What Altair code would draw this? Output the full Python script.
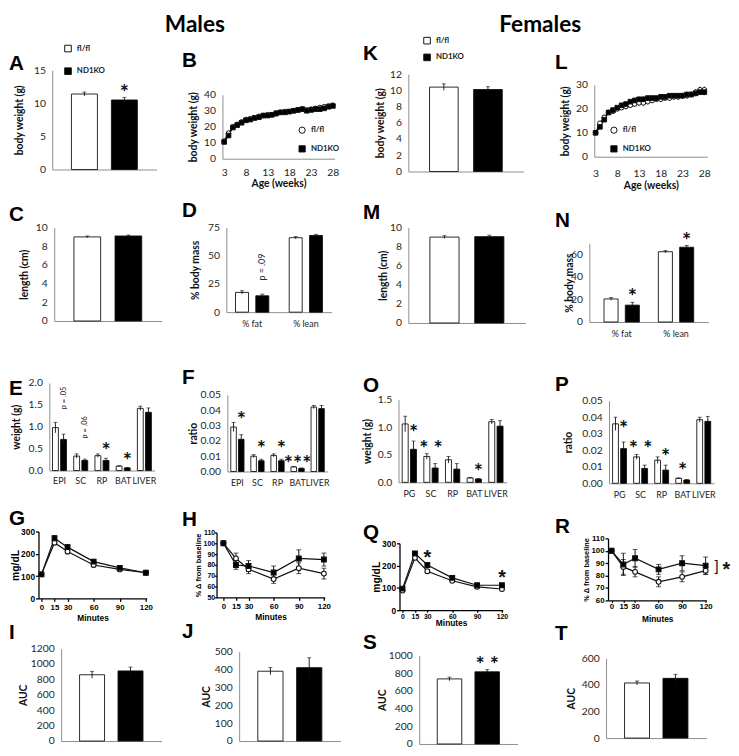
import altair as alt
import pandas as pd

GROUPS = ["fl/fl", "ND1KO"]
EXF = "Lato"
PRF = "Liberation Sans"
GREY = "#8c8c8c"
INK = "#111111"

# ---------------- values ----------------
A_mean = [11.4, 10.5]; A_sem = [0.3, 0.4]
K_mean = [10.4, 10.1]; K_sem = [0.4, 0.35]
C_mean = [9.0, 9.1]; C_sem = [0.1, 0.1]
M_mean = [9.0, 9.05]; M_sem = [0.15, 0.15]
I_mean = [860, 910]; I_sem = [45, 50]
J_mean = [390, 410]; J_sem = [20, 55]
S_mean = [735, 815]; S_sem = [20, 25]
T_mean = [415, 450]; T_sem = [15, 30]

COMP = ["% fat", "% lean"]
D_fl = [17.5, 66.0]; D_fl_sem = [1.5, 1.0]
D_ko = [14.5, 68.0]; D_ko_sem = [1.5, 1.0]
N_fl = [20.5, 62.5]; N_fl_sem = [1.2, 1.0]
N_ko = [15.0, 66.5]; N_ko_sem = [2.5, 1.5]

TISSUE_M = ["EPI", "SC", "RP", "BAT", "LIVER"]
TISSUE_F = ["PG", "SC", "RP", "BAT", "LIVER"]
E_fl = [0.98, 0.33, 0.34, 0.10, 1.42]; E_fl_sem = [0.12, 0.05, 0.04, 0.01, 0.05]
E_ko = [0.71, 0.23, 0.23, 0.06, 1.33]; E_ko_sem = [0.12, 0.03, 0.05, 0.01, 0.10]
F_fl = [0.029, 0.010, 0.0105, 0.003, 0.042]; F_fl_sem = [0.003, 0.001, 0.001, 0.0003, 0.001]
F_ko = [0.021, 0.007, 0.007, 0.002, 0.041]; F_ko_sem = [0.003, 0.001, 0.001, 0.0003, 0.002]
O_fl = [1.06, 0.47, 0.41, 0.08, 1.10]; O_fl_sem = [0.14, 0.05, 0.06, 0.01, 0.04]
O_ko = [0.60, 0.26, 0.24, 0.06, 1.02]; O_ko_sem = [0.15, 0.08, 0.10, 0.01, 0.10]
P_fl = [0.036, 0.016, 0.014, 0.003, 0.0385]; P_fl_sem = [0.004, 0.0015, 0.002, 0.0003, 0.0015]
P_ko = [0.021, 0.009, 0.008, 0.002, 0.0375]; P_ko_sem = [0.004, 0.002, 0.003, 0.0003, 0.003]

WEEKS = [3, 4, 5, 6, 7, 8, 9, 10, 11, 12, 13, 14, 15, 16, 17, 18, 19, 20, 21, 22, 23, 24, 25, 26, 27, 28]
WEEK_TICKS = [3, 8, 13, 18, 23, 28]
B_fl = [11.0, 16.0, 20.0, 21.5, 23.0, 24.5, 25.0, 25.5, 26.5, 27.0, 27.5, 27.5, 28.0, 29.0, 29.5, 29.5,
        30.0, 30.5, 31.0, 30.5, 31.0, 31.5, 32.0, 32.5, 33.0, 33.5]
B_ko = [10.5, 14.5, 19.5, 21.0, 22.5, 24.0, 24.5, 25.5, 26.0, 27.0, 27.0, 27.5, 28.5, 29.0, 29.0, 29.5,
        30.0, 30.5, 31.0, 30.0, 30.5, 31.0, 31.0, 31.5, 32.5, 33.0]
B_sem = [0.8, 0.9, 0.9, 0.8, 0.8, 0.7, 0.7, 0.8, 0.8, 0.7, 0.8, 0.8, 0.8, 0.9, 0.9, 0.8,
         0.9, 0.9, 0.9, 0.9, 0.9, 1.0, 1.0, 1.0, 1.0, 1.1]
L_fl = [10.0, 14.0, 16.5, 18.5, 19.0, 20.0, 20.5, 21.0, 21.5, 22.0, 22.5, 22.5, 23.0, 23.5, 24.0, 24.0,
        24.5, 24.5, 25.0, 25.0, 25.5, 25.5, 26.0, 27.0, 28.0, 28.0]
L_ko = [10.0, 12.5, 15.5, 18.5, 19.5, 20.5, 21.5, 22.0, 23.0, 23.5, 24.0, 24.0, 24.5, 24.5, 24.5, 25.0,
        25.0, 25.5, 25.5, 25.5, 25.5, 26.0, 26.0, 26.5, 27.0, 27.0]
L_sem = [0.6, 0.8, 0.9, 0.9, 1.0, 1.0, 1.0, 1.1, 1.1, 1.2, 1.2, 1.2, 1.1, 1.1, 1.1, 1.1,
         1.1, 1.1, 1.1, 1.2, 1.2, 1.2, 1.2, 1.3, 1.3, 1.3]

MINUTES = [0, 15, 30, 60, 90, 120]
G_fl = [108, 250, 210, 150, 130, 115]; G_fl_sem = [5, 10, 10, 8, 6, 5]
G_ko = [108, 270, 230, 165, 137, 115]; G_ko_sem = [6, 12, 12, 10, 7, 6]
H_fl = [100, 86, 76, 67, 77, 72]; H_fl_sem = [0, 5, 4, 4, 5, 5]
H_ko = [100, 80, 79, 73, 86, 85]; H_ko_sem = [0, 4, 5, 6, 8, 6]
Q_fl = [88, 235, 175, 132, 105, 95]; Q_fl_sem = [5, 8, 7, 5, 4, 4]
Q_ko = [97, 255, 203, 145, 112, 112]; Q_ko_sem = [5, 8, 6, 5, 4, 5]
R_fl = [100, 87, 83, 75, 79, 84]; R_fl_sem = [0, 6, 4, 4, 4, 3]
R_ko = [100, 89, 94, 85, 90, 88]; R_ko_sem = [0, 9, 7, 4, 6, 7]

A_notes = {"cat": ["all"], "grp": ["ND1KO"], "txt": ["*"], "val": [12.3]}
S_notes = {"cat": ["all"], "grp": ["ND1KO"], "txt": ["* *"], "val": [944]}
D_notes = {"cat": ["% fat"], "grp": ["ND1KO"], "txt": ["p = .09"], "val": [28.0]}
N_notes = {"cat": ["% fat", "% lean"], "grp": ["ND1KO", "ND1KO"], "txt": ["*", "*"], "val": [26.5, 76.5]}
E_notes = {"cat": ["EPI", "SC", "RP", "BAT"], "grp": ["ND1KO", "ND1KO", "ND1KO", "ND1KO"],
           "txt": ["p = .05", "p = .06", "*", "*"], "val": [1.40, 0.73, 0.55, 0.32]}
F_notes = {"cat": ["EPI", "SC", "RP", "BAT"], "grp": ["ND1KO", "ND1KO", "ND1KO", "mid"],
           "txt": ["*", "*", "*", "***"], "val": [0.0365, 0.0177, 0.0177, 0.0081]}
O_notes = {"cat": ["PG", "SC", "BAT"], "grp": ["ND1KO", "mid", "ND1KO"],
           "txt": ["*", "* *", "*"], "val": [0.98, 0.69, 0.27]}
P_notes = {"cat": ["PG", "SC", "RP", "BAT"], "grp": ["ND1KO", "mid", "ND1KO", "mid"],
           "txt": ["*", "* *", "*", "*"], "val": [0.0357, 0.0234, 0.0189, 0.0103]}
Q_stars = {"min": [30, 120], "val": [256, 168]}
R_bracket = {"min": [120], "val": [88]}

STAR = dict(font=EXF, fontSize=22, fontWeight="bold", baseline="middle", dy=5, color=INK)


def letter(ch, dx, off):
    return alt.TitleParams(text=ch, anchor="start", frame="group", dx=dx, offset=off,
                           baseline="alphabetic", font=PRF, fontSize=21, fontWeight="bold",
                           color="black")


def ex_y(title, values, fmt, extent, pad=3):
    return alt.Axis(title=title, values=values, tickCount=len(values), format=fmt, grid=False,
                    ticks=False, tickSize=0, domainColor=GREY, labelFont=EXF, labelFontSize=10.5,
                    labelColor="#262626", labelPadding=7, labelOverlap=False, titleFont=EXF,
                    titleFontSize=10.5, titleFontWeight="bold", titleColor=INK, titlePadding=pad,
                    minExtent=extent, maxExtent=extent)


def bar_legend(lx, ly, rowpad):
    return alt.Legend(orient="none", legendX=lx, legendY=ly, title=None, symbolType="square",
                      symbolSize=45, symbolStrokeColor=INK, symbolStrokeWidth=1,
                      labelFont=EXF, labelFontSize=8, labelFontWeight="bold", labelColor="#222",
                      rowPadding=rowpad, labelOffset=5)


def bar_panel(ch, dx, off, cats, fl, fl_e, ko, ko_e, ydom, yvals, yfmt, ytitle, W, H, extent,
              pin, pout, opin, opout, notes=None, legend=None, xlabels=True, xlab_pad=6, pfont=9):
    rows = []
    for i, c in enumerate(cats):
        for g, v, e in ((GROUPS[0], fl[i], fl_e[i]), (GROUPS[1], ko[i], ko_e[i])):
            rows.append({"cat": c, "grp": g, "val": v, "lo": v - e, "hi": v + e})
    df = pd.DataFrame(rows)
    xaxis = alt.Axis(title=None, ticks=False, tickSize=0, domainColor=GREY, labels=xlabels,
                     labelAngle=0, labelFont=EXF, labelFontSize=9, labelColor="#222",
                     labelPadding=xlab_pad, labelOverlap=False)
    X = alt.X("cat:N", sort=cats, scale=alt.Scale(paddingInner=pin, paddingOuter=pout), axis=xaxis)
    XO = alt.XOffset("grp:N", sort=GROUPS, scale=alt.Scale(paddingInner=opin, paddingOuter=opout))
    Y = alt.Y("val:Q", scale=alt.Scale(domain=ydom, nice=False, zero=False),
              axis=ex_y(ytitle, yvals, yfmt, extent))
    FILL = alt.Fill("grp:N", scale=alt.Scale(domain=GROUPS, range=["white", "black"]), legend=legend)
    base = alt.Chart(df)
    bars = base.mark_bar(stroke=INK, strokeWidth=0.9).encode(x=X, xOffset=XO, y=Y, fill=FILL)
    err = base.mark_rule(color=INK, strokeWidth=0.9).encode(x=X, xOffset=XO, y="lo:Q", y2="hi:Q")
    cap = base.mark_tick(color=INK, thickness=0.9, size=4, orient="horizontal").encode(
        x=X, xOffset=XO, y="hi:Q")
    layers = [bars, err, cap]
    if notes:
        nd = pd.DataFrame(notes)
        isp = nd["txt"].str.startswith("p")
        keyed = nd[(nd["grp"] != "mid") & (~isp)]
        mid = nd[(nd["grp"] == "mid") & (~isp)]
        ptx = nd[isp]
        if len(keyed):
            layers.append(alt.Chart(keyed).mark_text(**STAR).encode(
                x=X, xOffset=XO, y="val:Q", text="txt:N"))
        if len(mid):
            layers.append(alt.Chart(mid).mark_text(**STAR).encode(x=X, y="val:Q", text="txt:N"))
        if len(ptx):
            layers.append(alt.Chart(ptx).mark_text(font=EXF, fontSize=pfont, angle=270, align="left",
                                                   baseline="middle", color="#222").encode(
                x=X, xOffset=XO, y="val:Q", text="txt:N"))
    return alt.layer(*layers).properties(width=W, height=H, title=letter(ch, dx, off))


def single_panel(ch, dx, off, mean, sem, ydom, yvals, ytitle, W, H, extent, notes=None, legend=None):
    return bar_panel(ch, dx, off, ["all"], [mean[0]], [sem[0]], [mean[1]], [sem[1]], ydom, yvals,
                     "d", ytitle, W, H, extent, 0, 0, 0.35, 0.48, notes=notes, legend=legend,
                     xlabels=False)


def week_panel(ch, dx, off, fl, ko, sem, xdom, ydom, yvals, W, H, extent, lx, ly, xlab_pad, xt_pad):
    rows = []
    for i, w in enumerate(WEEKS):
        for g, v in ((GROUPS[0], fl[i]), (GROUPS[1], ko[i])):
            rows.append({"week": w, "grp": g, "val": v, "lo": v - sem[i], "hi": v + sem[i]})
    df = pd.DataFrame(rows)
    X = alt.X("week:Q", scale=alt.Scale(domain=xdom, nice=False, zero=False),
              axis=alt.Axis(values=WEEK_TICKS, tickCount=len(WEEK_TICKS), title="Age (weeks)", grid=False,
                            ticks=False, tickSize=0, domainColor=GREY, labelFont=EXF, labelFontSize=10.5,
                            labelColor="#222", labelPadding=xlab_pad, labelFlush=False, labelOverlap=False,
                            titleFont=EXF, titleFontSize=10.5, titleFontWeight="bold", titleColor=INK,
                            titlePadding=xt_pad))
    Y = alt.Y("val:Q", scale=alt.Scale(domain=ydom, nice=False),
              axis=ex_y("body weight (g)", yvals, "d", extent))
    leg = alt.Legend(orient="none", legendX=lx, legendY=ly, title=None, symbolSize=40,
                     symbolStrokeColor=INK, symbolStrokeWidth=1, labelFont=EXF, labelFontSize=8,
                     labelFontWeight="bold", labelColor="#222", rowPadding=7, labelOffset=5)
    base = alt.Chart(df)
    line = base.mark_line(color=INK, strokeWidth=1.3).encode(x=X, y=Y, detail="grp:N")
    err = base.mark_rule(color=INK, strokeWidth=0.8).encode(x=X, y="lo:Q", y2="hi:Q")
    pts = base.mark_point(filled=True, size=22, strokeWidth=1, opacity=1).encode(
        x=X, y=Y,
        shape=alt.Shape("grp:N", scale=alt.Scale(domain=GROUPS, range=["circle", "square"]), legend=leg),
        fill=alt.Fill("grp:N", scale=alt.Scale(domain=GROUPS, range=["white", "black"]), legend=leg),
        stroke=alt.Stroke("grp:N", scale=alt.Scale(domain=GROUPS, range=[INK, INK]), legend=leg))
    return alt.layer(line, err, pts).properties(width=W, height=H, title=letter(ch, dx, off))


def gtt_panel(ch, dx, off, fl, fl_e, ko, ko_e, xdom, ydom, yvals, ytitle, ytsize, W, H, extent, tpad,
              stars=None, bracket=None, xtick=3, xlab_pad=2, xt_pad=2, xlab_font=8, ylab_font=8.5,
              ytick=3, ylab_pad=1):
    rows = []
    for i, m in enumerate(MINUTES):
        for g, v, e in ((GROUPS[0], fl[i], fl_e[i]), (GROUPS[1], ko[i], ko_e[i])):
            rows.append({"min": m, "grp": g, "val": v, "lo": v - e, "hi": v + e})
    df = pd.DataFrame(rows)
    X = alt.X("min:Q", scale=alt.Scale(domain=xdom, nice=False, zero=False),
              axis=alt.Axis(values=MINUTES, tickCount=len(MINUTES), title="Minutes", grid=False,
                            domainColor="black", domainWidth=1.3, tickColor="black", tickWidth=1.3,
                            tickSize=xtick, labelFont=PRF, labelFontSize=xlab_font, labelFontWeight="bold",
                            labelColor="black", labelPadding=xlab_pad, labelFlush=False, labelOverlap=False,
                            titleFont=PRF, titleFontSize=8.5, titleFontWeight="bold", titleColor="black",
                            titlePadding=xt_pad))
    Y = alt.Y("val:Q", scale=alt.Scale(domain=ydom, nice=False, zero=False),
              axis=alt.Axis(values=yvals, tickCount=len(yvals), title=ytitle, grid=False, domainColor="black",
                            domainWidth=1.3, tickColor="black", tickWidth=1.3, tickSize=ytick, labelFont=PRF,
                            labelFontSize=ylab_font, labelFontWeight="bold", labelColor="black",
                            labelPadding=ylab_pad, labelOverlap=False, titleFont=PRF, titleFontSize=ytsize,
                            titleFontWeight="bold", titleColor="black", titlePadding=tpad,
                            minExtent=extent, maxExtent=extent))
    base = alt.Chart(df)
    line = base.mark_line(color=INK, strokeWidth=1.2).encode(x=X, y=Y, detail="grp:N")
    err = base.mark_rule(color=INK, strokeWidth=1).encode(x=X, y="lo:Q", y2="hi:Q")
    cap_hi = base.mark_tick(color=INK, thickness=1, size=5, orient="horizontal").encode(x=X, y="hi:Q")
    cap_lo = base.mark_tick(color=INK, thickness=1, size=5, orient="horizontal").encode(x=X, y="lo:Q")
    pts = base.mark_point(filled=True, size=24, stroke=INK, strokeWidth=1.1, opacity=1).encode(
        x=X, y=Y,
        shape=alt.Shape("grp:N", scale=alt.Scale(domain=GROUPS, range=["circle", "square"]), legend=None),
        fill=alt.Fill("grp:N", scale=alt.Scale(domain=GROUPS, range=["white", "black"]), legend=None))
    layers = [line, err, cap_hi, cap_lo, pts]
    if stars:
        sd = pd.DataFrame(stars)
        layers.append(alt.Chart(sd).mark_text(font=PRF, fontSize=20, fontWeight="bold", baseline="middle",
                                              dy=5, color=INK).encode(x=X, y="val:Q", text=alt.value("*")))
    if bracket:
        bd = pd.DataFrame(bracket)
        layers.append(alt.Chart(bd).mark_text(font=PRF, fontSize=15, baseline="middle", dx=11, dy=0,
                                              color=INK).encode(x=X, y="val:Q", text=alt.value("]")))
        layers.append(alt.Chart(bd).mark_text(font=PRF, fontSize=20, fontWeight="bold", baseline="middle",
                                              dx=21, dy=5, color=INK).encode(x=X, y="val:Q",
                                                                            text=alt.value("*")))
    return alt.layer(*layers).properties(width=W, height=H, title=letter(ch, dx, off))


# ---------------- panels ----------------
pA = single_panel("A", -44, -47, A_mean, A_sem, [0, 15], [0, 5, 10, 15], "body weight (g)", 106, 101, 25,
                  notes=A_notes, legend=bar_legend(12, -26, 11))
pK = single_panel("K", -46, -45, K_mean, K_sem, [0, 12], [0, 2, 4, 6, 8, 10, 12], "body weight (g)",
                  117, 99, 20, legend=bar_legend(15, -38, 5))
pC = single_panel("C", -46, -19, C_mean, C_sem, [0, 10], [0, 2, 4, 6, 8, 10], "length (cm)", 109, 95, 22)
pM = single_panel("M", -46, -17, M_mean, M_sem, [0, 10], [0, 2, 4, 6, 8, 10], "length (cm)", 119, 97, 17)
pI = single_panel("I", -53, -16, I_mean, I_sem, [0, 1200], [0, 200, 400, 600, 800, 1000, 1200], "AUC",
                  102, 94, 30)
pJ = single_panel("J", -58, -12, J_mean, J_sem, [0, 500], [0, 100, 200, 300, 400, 500], "AUC", 103, 91, 25)
pS = single_panel("S", -57, -19, S_mean, S_sem, [0, 1000], [0, 200, 400, 600, 800, 1000], "AUC", 100, 90,
                  29, notes=S_notes)
pT = single_panel("T", -52, -7, T_mean, T_sem, [0, 600], [0, 200, 400, 600], "AUC", 102, 81, 27)

pD = bar_panel("D", -45, -15, COMP, D_fl, D_fl_sem, D_ko, D_ko_sem, [0, 75], [0, 25, 50, 75], "d",
               "% body mass", 107, 86, 23, 0.38, 0.17, 0.36, 0, notes=D_notes, xlab_pad=8, pfont=9)
pN = bar_panel("N", -35, -18, COMP, N_fl, N_fl_sem, N_ko, N_ko_sem, [0, 70], [0, 20, 40, 60], "d",
               "% body mass", 121, 80, 12, 0.35, 0.27, 0.34, 0, notes=N_notes, xlab_pad=8)
pE = bar_panel("E", -41, -38, TISSUE_M, E_fl, E_fl_sem, E_ko, E_ko_sem, [0, 2], [0, 0.5, 1, 1.5, 2], ".1f",
               "weight (g)", 107, 89, 25, 0.34, 0.15, 0.28, 0, notes=E_notes, pfont=7.5)
pF = bar_panel("F", -46, -15, TISSUE_M, F_fl, F_fl_sem, F_ko, F_ko_sem, [0, 0.05],
               [0, 0.01, 0.02, 0.03, 0.04, 0.05], ".2f", "ratio", 102, 78, 26, 0.34, 0.17, 0.28, 0,
               notes=F_notes, xlab_pad=7)
pO = bar_panel("O", -36, -18, TISSUE_F, O_fl, O_fl_sem, O_ko, O_ko_sem, [0, 1.5], [0, 0.5, 1, 1.5], ".1f",
               "weight (g)", 110, 84, 23, 0.34, 0.17, 0.28, 0, notes=O_notes, xlab_pad=7)
pP = bar_panel("P", -55, -16, TISSUE_F, P_fl, P_fl_sem, P_ko, P_ko_sem, [0, 0.05],
               [0, 0.01, 0.02, 0.03, 0.04, 0.05], ".2f", "ratio", 107, 84, 33, 0.34, 0.17, 0.28, 0,
               notes=P_notes, xlab_pad=7)

pB = week_panel("B", -41, 2, B_fl, B_ko, B_sem, [2.6, 28.4], [0, 40], [0, 10, 20, 30, 40], 114, 65, 21,
                77, 32, 9, 1)
pL = week_panel("L", -40, -10, L_fl, L_ko, L_sem, [2.7, 28.7], [0, 30], [0, 10, 20, 30], 115, 73, 21,
                16, 42, 12, 2)

pG = gtt_panel("G", -30, -18, G_fl, G_fl_sem, G_ko, G_ko_sem, [-3.4, 121], [0, 300], [0, 100, 200, 300],
               "mg/dL", 10.5, 110, 68, 17, 1)
pH = gtt_panel("H", -35, -18, H_fl, H_fl_sem, H_ko, H_ko_sem, [-8.2, 121], [50, 110],
               [50, 60, 70, 80, 90, 100, 110], "% Δ from baseline", 7.5, 110, 66, 14, 0,
               ylab_font=7, ytick=2, ylab_pad=0)
pQ = gtt_panel("Q", -37, -21, Q_fl, Q_fl_sem, Q_ko, Q_ko_sem, [-3.6, 121], [0, 300], [0, 100, 200, 300],
               "mg/dL", 10.5, 105, 68, 17, 1, stars=Q_stars, xtick=2, xlab_pad=0, xt_pad=0, xlab_font=7)
pR = gtt_panel("R", -54, -19, R_fl, R_fl_sem, R_ko, R_ko_sem, [-4.5, 121], [60, 110],
               [60, 70, 80, 90, 100, 110], "% Δ from baseline", 7.5, 100, 63, 17, 1, bracket=R_bracket,
               xtick=2, xlab_pad=0, xt_pad=4, ylab_font=8)


# ---------------- layout ----------------
def ind(c):
    return c.resolve_scale(fill="independent", shape="independent", stroke="independent",
                           xOffset="independent").resolve_legend(
        fill="independent", shape="independent", stroke="independent")


def spacer(w, h):
    return alt.Chart(pd.DataFrame({"s": [""]})).mark_text().encode(text="s:N").properties(width=w, height=h)


def wrap(p):
    # a 1px spacer first, so panels in a column line up on their letters
    return ind(alt.hconcat(spacer(1, 1), p, spacing=0))


def column(first_gap, panels, gaps):
    inner = wrap(panels[-1])
    for p, g in zip(reversed(panels[:-1]), reversed(gaps)):
        inner = ind(alt.vconcat(wrap(p), inner, spacing=g))
    return ind(alt.vconcat(spacer(1, 1), inner, spacing=first_gap))


colA = column(8, [pA, pC, pE, pG, pI], [29, 51, 23, 0])
colB = column(14, [pB, pD, pF, pH, pJ], [11, 39, 22, 0])
colK = column(0, [pK, pM, pO, pQ, pS], [25, 47, 25, 4])
colL = column(16, [pL, pN, pP, pR, pT], [19, 36, 17, 0])

males = ind(alt.hconcat(colA, colB, spacing=20,
                        title=alt.TitleParams("Males", font=EXF, fontSize=23, fontWeight="bold",
                                              anchor="middle", baseline="alphabetic", offset=-30, dx=21,
                                              color="black")))
females = ind(alt.hconcat(colK, colL, spacing=29,
                          title=alt.TitleParams("Females", font=EXF, fontSize=23, fontWeight="bold",
                                                anchor="middle", baseline="alphabetic", offset=-30, dx=-6,
                                                color="black")))

chart = ind(alt.hconcat(males, females, spacing=22, padding=0, background="white")).configure_view(stroke=None)

chart.save("out.html", embed_options={"renderer": "svg", "actions": False})
